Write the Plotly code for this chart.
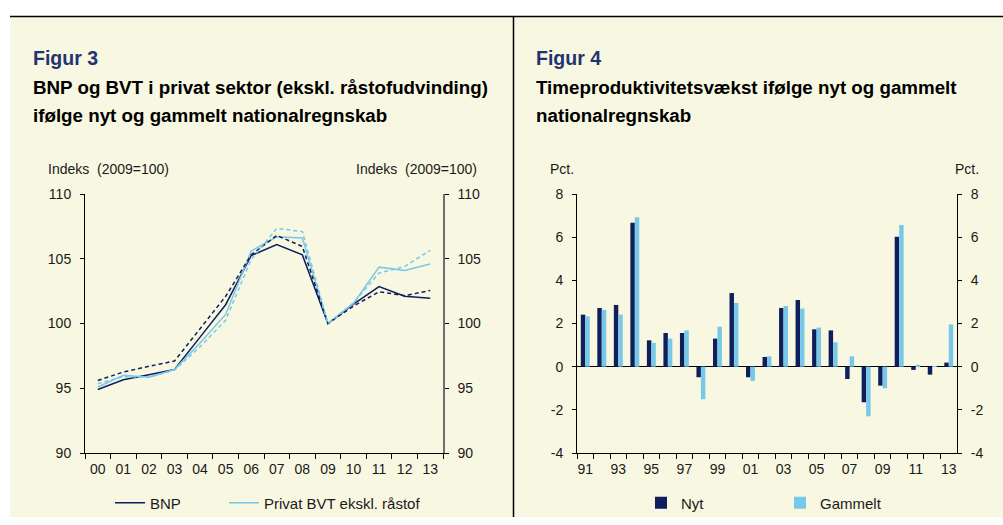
import plotly.graph_objects as go

# ---------------- data ----------------
years_left = ["00", "01", "02", "03", "04", "05", "06", "07", "08", "09", "10", "11", "12", "13"]
bnp_nyt = [94.9, 95.65, 96.05, 96.45, 98.95, 101.45, 105.25, 106.1, 105.3, 100.0, 101.5, 102.85, 102.1, 101.95]
bvt_nyt = [95.1, 96.0, 95.85, 96.45, 98.5, 100.7, 105.6, 106.7, 106.6, 100.0, 101.55, 104.35, 104.1, 104.6]
bnp_gammel = [95.6, 96.25, 96.7, 97.1, 99.6, 102.1, 105.3, 106.8, 105.95, 100.0, 101.35, 102.45, 102.15, 102.55]
bvt_gammel = [95.35, 95.9, 95.85, 96.4, 98.2, 100.25, 104.95, 107.35, 107.1, 100.0, 101.6, 103.9, 104.4, 105.65]
idx_ticks = [90, 95, 100, 105, 110]

years_right = ["91", "92", "93", "94", "95", "96", "97", "98", "99", "00", "01", "02",
               "03", "04", "05", "06", "07", "08", "09", "10", "11", "12", "13"]
year_labels_right = ["91", "", "93", "", "95", "", "97", "", "99", "", "01", "",
                     "03", "", "05", "", "07", "", "09", "", "11", "", "13"]
nyt = [2.41, 2.72, 2.86, 6.67, 1.22, 1.56, 1.56, -0.49, 1.30, 3.41, -0.49, 0.45,
       2.72, 3.09, 1.73, 1.68, -0.57, -1.65, -0.88, 6.02, -0.15, -0.37, 0.19]
gammelt = [2.33, 2.63, 2.41, 6.92, 1.10, 1.30, 1.68, -1.51, 1.85, 2.95, -0.66, 0.48,
           2.81, 2.69, 1.81, 1.13, 0.48, -2.30, -1.00, 6.56, 0.09, 0.03, 1.96]
pct_ticks = [-4, -2, 0, 2, 4, 6, 8]
pct_ticktext = ["-4", "-2", "0", "2", "4", "6", "8"]

# ---------------- style ----------------
W, H = 1003, 525
FONT = "Liberation Sans, Arial, sans-serif"
CREAM = "#F8F7E1"
NAVY = "#0E1F5B"
LIGHT = "#78C8EA"
TITLE_BLUE = "#1F3471"
TXT = "#1a1a1a"

# the photographed page shows the figure inset by 8px top/bottom; compensate vertically
OFF, SC = 8.0, 509.0 / 525.0


def px(x):
    return x / W


def py(y):
    return 1 - ((y - OFF) / SC) / H


fig = go.Figure()

fig.add_trace(go.Scatter(x=years_left, y=bnp_nyt, mode="lines", name="BNP",
                         line=dict(color=NAVY, width=1.5), xaxis="x", yaxis="y", legend="legend"))
fig.add_trace(go.Scatter(x=years_left, y=bvt_nyt, mode="lines", name="Privat BVT ekskl. råstof",
                         line=dict(color=LIGHT, width=1.5), xaxis="x", yaxis="y", legend="legend2"))
fig.add_trace(go.Scatter(x=years_left, y=bnp_gammel, mode="lines", name="BNP (gammelt)",
                         line=dict(color=NAVY, width=1.5, dash="4px,3px"), xaxis="x", yaxis="y2",
                         showlegend=False))
fig.add_trace(go.Scatter(x=years_left, y=bvt_gammel, mode="lines", name="Privat BVT (gammelt)",
                         line=dict(color=LIGHT, width=1.5, dash="4px,3px"), xaxis="x", yaxis="y2",
                         showlegend=False))

BW = 0.27
fig.add_trace(go.Bar(x=years_right, y=nyt, name="Nyt", marker=dict(color=NAVY, line=dict(width=0)),
                     width=BW, offset=-BW, xaxis="x2", yaxis="y3", legend="legend3"))
fig.add_trace(go.Bar(x=years_right, y=gammelt, name="Gammelt", marker=dict(color=LIGHT, line=dict(width=0)),
                     width=BW, offset=0, xaxis="x2", yaxis="y4", legend="legend4"))

axis_font = dict(family=FONT, size=14, color=TXT)
common_y = dict(showgrid=False, zeroline=False, showline=True, linecolor="black", linewidth=1,
                ticks="outside", ticklen=4, tickcolor="black", tickfont=axis_font,
                ticklabelstandoff=6)
common_x = dict(type="category", showgrid=False, zeroline=False, showline=True, linecolor="black",
                linewidth=1, ticks="outside", ticklen=5, tickcolor="black", tickson="boundaries",
                tickfont=axis_font, tickangle=0, ticklabelstandoff=3)

dom_y = [py(453), py(194)]
fig.update_layout(
    width=W, height=H,
    margin=dict(l=0, r=0, t=0, b=0),
    paper_bgcolor="white",
    plot_bgcolor="rgba(0,0,0,0)",
    font=dict(family=FONT, size=14, color=TXT),
    barmode="overlay",
    xaxis=dict(common_x, domain=[px(85), px(443)], anchor="y", range=[-0.5, 13.5]),
    yaxis=dict(common_y, domain=dom_y, anchor="x", range=[90, 110], tickvals=idx_ticks),
    yaxis2=dict(common_y, overlaying="y", side="right", anchor="x", range=[90, 110],
                tickvals=idx_ticks, linecolor="#6f6f6f", linewidth=1.5),
    xaxis2=dict(common_x, domain=[px(577), px(957)], anchor="y3", range=[-0.5, 22.5],
                tickvals=years_right, ticktext=year_labels_right),
    yaxis3=dict(common_y, domain=dom_y, anchor="x2", range=[-4, 8], tickvals=pct_ticks,
                ticktext=pct_ticktext, zeroline=True, zerolinecolor="black", zerolinewidth=1),
    yaxis4=dict(common_y, overlaying="y3", side="right", anchor="x2", range=[-4, 8],
                tickvals=pct_ticks, ticktext=pct_ticktext),
    showlegend=True,
)

leg_common = dict(orientation="h", xanchor="left", yanchor="middle", bgcolor="rgba(0,0,0,0)",
                  font=dict(family=FONT, size=15, color=TXT), itemwidth=30)
fig.update_layout(
    legend=dict(leg_common, x=px(110), y=py(503)),
    legend2=dict(leg_common, x=px(224), y=py(503)),
    legend3=dict(leg_common, x=px(641), y=py(503)),
    legend4=dict(leg_common, x=px(780), y=py(503)),
)

fig.add_shape(type="rect", xref="paper", yref="paper", x0=px(10), x1=1, y0=0, y1=py(16.5),
              fillcolor=CREAM, line=dict(width=0), layer="below")
fig.add_shape(type="line", xref="paper", yref="paper", x0=px(10), x1=1, y0=py(16.5), y1=py(16.5),
              line=dict(color="black", width=1.5))
fig.add_shape(type="line", xref="paper", yref="paper", x0=px(513.5), x1=px(513.5), y0=0, y1=py(16.5),
              line=dict(color="black", width=1.5))


def ann(text, x, y, size, color=TXT, bold=False, xanchor="left"):
    fig.add_annotation(text=("<b>%s</b>" % text) if bold else text, xref="paper", yref="paper",
                       x=px(x), y=py(y), xanchor=xanchor, yanchor="middle", showarrow=False,
                       font=dict(family=FONT, size=size, color=color))

ann("Figur 3", 31, 58, 19.5, TITLE_BLUE, True)
ann("BNP og BVT i privat sektor (ekskl. råstofudvinding)", 31, 88, 18.75, "black", True)
ann("ifølge nyt og gammelt nationalregnskab", 31, 115, 18.75, "black", True)
ann("Figur 4", 534, 58, 19.5, TITLE_BLUE, True)
ann("Timeproduktivitetsvækst ifølge nyt og gammelt", 534, 88, 18.75, "black", True)
ann("nationalregnskab", 534, 115, 18.75, "black", True)

ann("Indeks  (2009=100)", 46, 169, 14)
ann("Indeks  (2009=100)", 479, 169, 14, xanchor="right")
ann("Pct.", 548, 169, 14)
ann("Pct.", 981, 169, 14, xanchor="right")

post = (
    "document.documentElement.style.cssText='margin:0;padding:0;overflow:hidden;height:525px;"
    "background:linear-gradient(#fff,#fff) top left/100% 50% no-repeat,"
    "linear-gradient(to right,#fff 10px," + CREAM + " 10px);';"
    "document.body.style.cssText='margin:0;padding:0;overflow:hidden;height:525px;background:transparent;';"
    "var gd=document.querySelector('.plotly-graph-div');"
    "gd.style.position='fixed';gd.style.left='0px';gd.style.top='0px';"
)
fig.write_html("out.html", config={"displayModeBar": False}, post_script=post)
